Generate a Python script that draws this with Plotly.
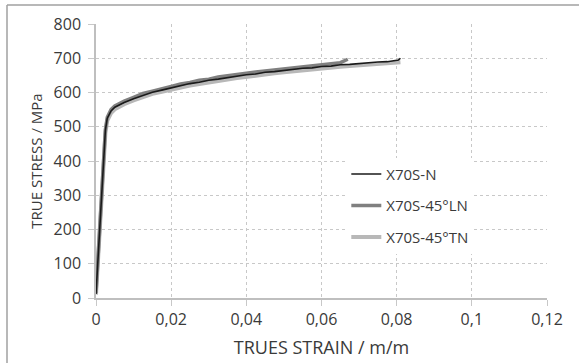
import plotly.graph_objects as go

# True stress-strain curves for three X70S specimens
strain_n = [0, 0.0005, 0.001, 0.0015, 0.002, 0.0025, 0.003, 0.0035, 0.004, 0.005,
            0.0075, 0.01, 0.0125, 0.015, 0.0175, 0.02, 0.0225, 0.025, 0.0275, 0.03,
            0.0325, 0.035, 0.0375, 0.04, 0.0425, 0.045, 0.0475, 0.05, 0.0525, 0.055,
            0.0575, 0.06, 0.0625, 0.065, 0.0675, 0.07, 0.0725, 0.075, 0.0775, 0.08,
            0.0805, 0.081]
stress_n = [12, 110, 215, 320, 420, 490, 525, 538, 546, 557,
            571, 582, 592, 601, 607, 614, 619, 626, 630, 636,
            639, 644, 647, 652, 654, 659, 661, 665, 667, 671,
            672, 676, 677, 681, 682, 685, 686, 689, 690, 693,
            695, 700]

strain_ln = [0, 0.0005, 0.001, 0.0015, 0.002, 0.0025, 0.003, 0.0035, 0.004, 0.005,
             0.0075, 0.01, 0.0125, 0.015, 0.0175, 0.02, 0.0225, 0.025, 0.0275, 0.03,
             0.0325, 0.035, 0.0375, 0.04, 0.0425, 0.045, 0.0475, 0.05, 0.0525, 0.055,
             0.0575, 0.06, 0.0625, 0.065, 0.067]
stress_ln = [14, 105, 210, 315, 418, 492, 528, 541, 550, 561,
             575, 586, 597, 604, 612, 618, 625, 629, 636, 639,
             645, 648, 653, 656, 660, 663, 667, 669, 673, 675,
             679, 681, 685, 687, 697]

strain_tn = [0, 0.0005, 0.001, 0.0015, 0.002, 0.0025, 0.003, 0.0035, 0.004, 0.005,
             0.0075, 0.01, 0.0125, 0.015, 0.0175, 0.02, 0.0225, 0.025, 0.0275, 0.03,
             0.0325, 0.035, 0.0375, 0.04, 0.0425, 0.045, 0.0475, 0.05, 0.0525, 0.055,
             0.0575, 0.06, 0.0625, 0.065, 0.0675, 0.07, 0.0725, 0.075, 0.0775, 0.08,
             0.081]
stress_tn = [10, 100, 205, 310, 410, 482, 518, 532, 540, 551,
             566, 577, 587, 596, 602, 609, 614, 620, 625, 630,
             634, 638, 642, 646, 649, 653, 656, 659, 662, 665,
             667, 670, 672, 675, 677, 679, 681, 683, 685, 687,
             688]

fig = go.Figure()

fig.add_trace(go.Scatter(x=strain_tn, y=stress_tn, mode="lines", name="X70S-45°TN",
                         line=dict(color="#b8b8b8", width=4), legendrank=3,
                         legendgroup="tn"))
fig.add_trace(go.Scatter(x=strain_ln, y=stress_ln, mode="lines", name="X70S-45°LN",
                         line=dict(color="#808080", width=3.5), legendrank=2,
                         legendgroup="ln"))
fig.add_trace(go.Scatter(x=strain_n, y=stress_n, mode="lines", name="X70S-N",
                         line=dict(color="#1a1a1a", width=1.6), legendrank=1,
                         legendgroup="n"))

font_family = "Open Sans, Liberation Sans, sans-serif"

fig.update_layout(
    width=579, height=363,
    margin=dict(l=96, r=32, t=24, b=65),
    paper_bgcolor="white", plot_bgcolor="white",
    font=dict(family=font_family, color="#3a3a3a", size=16),
    showlegend=True,
    legend=dict(x=0.555, y=0.512, xanchor="left", yanchor="top",
                bgcolor="white", font=dict(size=15, color="#3a3a3a"),
                tracegroupgap=9, traceorder="grouped"),
    xaxis=dict(range=[0, 0.12], dtick=0.02, tickformat=".2~f",
               showgrid=True, gridcolor="#c8c8c8", griddash="dot", gridwidth=1,
               showline=True, linecolor="#bfbfbf", linewidth=1.5,
               ticks="outside", ticklen=6, tickcolor="#c8c8c8",
               zeroline=False, automargin=False,
               title=dict(text="TRUES STRAIN / m/m", font=dict(size=18), standoff=12)),
    yaxis=dict(range=[0, 800], dtick=100,
               showgrid=True, gridcolor="#c8c8c8", griddash="dot", gridwidth=1,
               showline=True, linecolor="#bfbfbf", linewidth=1.5,
               ticks="outside", ticklen=6, tickcolor="#c8c8c8",
               ticklabelstandoff=4,
               zeroline=False, automargin=False,
               title=dict(text="TRUE STRESS / MPa", font=dict(size=15), standoff=7)),
    separators=", ",
)

# Frame lines along the top and left of the figure
fig.add_shape(type="line", xref="paper", yref="paper",
              x0=(7 - 96) / 451, x1=1.2, y0=1 + (24 - 5) / 274, y1=1 + (24 - 5) / 274,
              line=dict(color="#a0a0a0", width=1.5))
fig.add_shape(type="line", xref="paper", yref="paper",
              x0=(7 - 96) / 451, x1=(7 - 96) / 451, y0=1 + (24 - 5) / 274, y1=-0.4,
              line=dict(color="#a0a0a0", width=1.5))

fig.write_html("out.html")
